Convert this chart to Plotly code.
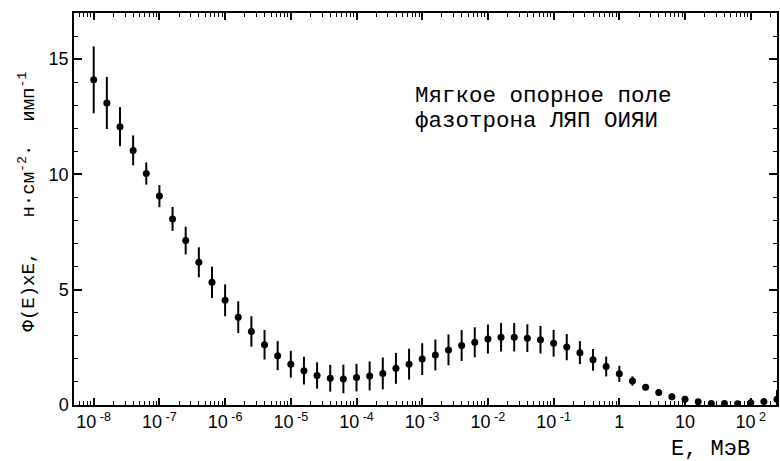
import plotly.graph_objects as go

# log10 of energy (MeV) for each measured point
log_energy = [-8.0, -7.8, -7.6, -7.4, -7.2, -7.0, -6.8, -6.6, -6.4, -6.2,
              -6.0, -5.8, -5.6, -5.4, -5.2, -5.0, -4.8, -4.6, -4.4, -4.2,
              -4.0, -3.8, -3.6, -3.4, -3.2, -3.0, -2.8, -2.6, -2.4, -2.2,
              -2.0, -1.8, -1.6, -1.4, -1.2, -1.0, -0.8, -0.6, -0.4, -0.2,
              0.0, 0.2, 0.4, 0.6, 0.8, 1.0, 1.2, 1.4, 1.6, 1.8,
              2.0, 2.2, 2.4]

flux = [14.1, 13.1, 12.07, 11.04, 10.04, 9.06, 8.07, 7.13, 6.19, 5.32,
        4.54, 3.81, 3.19, 2.61, 2.14, 1.77, 1.49, 1.28, 1.16, 1.13,
        1.19, 1.26, 1.37, 1.59, 1.77, 1.99, 2.17, 2.39, 2.58, 2.72,
        2.86, 2.94, 2.94, 2.90, 2.83, 2.68, 2.51, 2.27, 1.96, 1.67,
        1.35, 1.04, 0.77, 0.54, 0.36, 0.25, 0.14, 0.07, 0.07, 0.05,
        0.10, 0.15, 0.25]

flux_err = [1.45, 1.13, 0.85, 0.65, 0.48, 0.48, 0.52, 0.60, 0.65, 0.68,
            0.69, 0.69, 0.66, 0.64, 0.63, 0.58, 0.60, 0.57, 0.58, 0.62,
            0.60, 0.63, 0.69, 0.67, 0.67, 0.69, 0.67, 0.67, 0.67, 0.65,
            0.63, 0.62, 0.62, 0.60, 0.60, 0.58, 0.57, 0.50, 0.47, 0.43,
            0.35, 0.20, 0.12, 0.15, 0.15, 0.10, 0.08, 0.07, 0.07, 0.06,
            0.08, 0.10, 0.40]

x_tick_exp = [-8, -7, -6, -5, -4, -3, -2, -1, 0, 1, 2]
x_tick_text = ["10<sup> -8</sup>", "10<sup> -7</sup>", "10<sup> -6</sup>", "10<sup> -5</sup>",
               "10<sup> -4</sup>", "10<sup> -3</sup>", "10<sup> -2</sup>", "10<sup> -1</sup>",
               "1", "10", "10<sup> 2</sup>"]
y_tick_vals = [0, 5, 10, 15]

energy = [10 ** e for e in log_energy]
x_tick_vals = [10 ** e for e in x_tick_exp]

mono = "Liberation Mono"
sans = "Liberation Sans"
nb = "\u00a0"

fig = go.Figure()
fig.add_trace(go.Scatter(
    x=energy, y=flux, mode="markers",
    marker=dict(symbol="circle", size=7, color="black"),
    error_y=dict(type="data", array=flux_err, visible=True,
                 thickness=2, width=0, color="black"),
    showlegend=False,
))

fig.update_layout(
    width=780, height=461,
    margin=dict(l=74, r=3, t=13, b=56, autoexpand=False),
    paper_bgcolor="white", plot_bgcolor="white",
    font=dict(family=sans, size=17, color="black"),
    xaxis=dict(
        type="log", range=[-8.3, 2.4], automargin=False,
        tickmode="array", tickvals=x_tick_vals, ticktext=x_tick_text,
        ticks="inside", ticklen=7, tickwidth=1.5, tickcolor="black",
        minor=dict(ticks="inside", ticklen=4, tickwidth=1, tickcolor="black",
                   dtick="D1", showgrid=False),
        showline=True, linecolor="black", linewidth=1.5, mirror="allticks",
        showgrid=False, zeroline=False,
        tickfont=dict(family=sans, size=18),
    ),
    yaxis=dict(
        range=[0, 17], automargin=False,
        tickmode="array", tickvals=y_tick_vals,
        ticks="inside", ticklen=8, tickwidth=1.5, tickcolor="black",
        minor=dict(ticks="inside", ticklen=4, tickwidth=1, tickcolor="black",
                   dtick=1, showgrid=False),
        showline=True, linecolor="black", linewidth=1.5, mirror="allticks",
        showgrid=False, zeroline=False,
        tickfont=dict(family=sans, size=18),
    ),
    annotations=[
        dict(text="Мягкое опорное поле", xref="paper", yref="paper",
             x=0.482, y=0.789, xanchor="left", yanchor="middle", showarrow=False,
             font=dict(family=mono, size=22.5, color="black")),
        dict(text="фазотрона ЛЯП ОИЯИ", xref="paper", yref="paper",
             x=0.482, y=0.724, xanchor="left", yanchor="middle", showarrow=False,
             font=dict(family=mono, size=22.5, color="black")),
        dict(text="E," + nb + "МэВ", xref="paper", yref="paper",
             x=0.905, y=-0.113, xanchor="center", yanchor="middle", showarrow=False,
             font=dict(family=mono, size=22, color="black")),
        dict(text="Φ(E)xE," + nb * 3 + "н·см<sup>-2</sup>·" + nb * 2 + "имп<sup>-1</sup>",
             xref="paper", yref="paper",
             x=-0.0654, y=0.519, xanchor="center", yanchor="middle", textangle=-90,
             showarrow=False, font=dict(family=mono, size=19, color="black")),
    ],
)

fig.write_html(
    "out.html",
    config={"displayModeBar": False},
    post_script="document.body.style.margin='0';document.body.style.padding='0';"
                "document.body.style.overflow='hidden';",
)
